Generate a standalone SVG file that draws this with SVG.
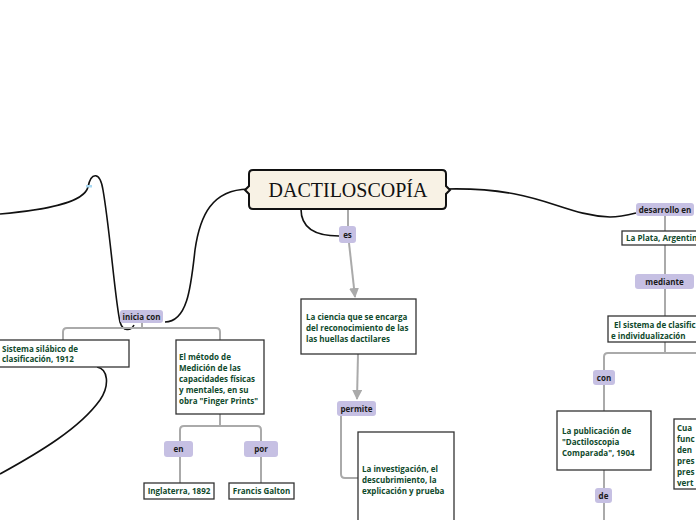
<svg xmlns="http://www.w3.org/2000/svg" width="696" height="520" viewBox="0 0 696 520">
<style>
.lbl rect{fill:#c6c0e3;}
.lbl text{font-family:"Open Sans","Noto Sans",sans-serif;font-size:8px;font-weight:700;fill:#1a1a1a;text-anchor:middle;}
.box rect{fill:#ffffff;stroke:#333;stroke-width:1.3;}
.box text{font-family:"Open Sans","Noto Sans",sans-serif;font-size:8px;font-weight:700;fill:#0f4a2c;}
.grey{fill:none;stroke:#aaa;stroke-width:2;}
.blk{fill:none;stroke:#111;stroke-width:1.6;}
</style>
<defs>
<marker id="arr" viewBox="0 0 10 10" refX="9" refY="5" markerWidth="5" markerHeight="5" orient="auto">
<path d="M0,0 L10,5 L0,10 Z" fill="#aaa"/>
</marker>
</defs>
<rect width="696" height="520" fill="#ffffff"/>
<g id="connectors">
<path class="blk" d="M0,214 C45,210 84,203 88,187 C91,172 100,171 103,190 C110,230 115,300 120,322 C123,332 131,331 134,325"/>
<rect x="86" y="185" width="6" height="2.5" fill="#a9d9f2"/>
<path class="blk" d="M248,189 C212,190 200,215 195,250 C191,285 188,322 165,322"/>
<path class="blk" d="M97,367 C108,369 110,385 100,400 C80,428 40,452 0,474"/>
<path class="blk" d="M301,209 C301,228 315,236 339,236"/>
<path class="blk" d="M447,189 C540,187 560,215 610,217 C620,217 628,215 636,213"/>
<path class="grey" d="M142,323 V328 M63,340 V332 Q63,328 67,328 H216 Q220,328 220,332 V340"/>
<path class="grey" d="M220,414 V426 M180,441 V430 Q180,426 184,426 H257 Q261,426 261,430 V441"/>
<path class="grey" d="M180,457 V483 M261,457 V483"/>
<path class="grey" d="M348,209 V226"/>
<path class="grey" d="M349,243 L355,297" marker-end="url(#arr)"/>
<path class="grey" d="M358,354 L357,399" marker-end="url(#arr)"/>
<path class="grey" d="M341,416 V474 Q341,478 345,478 H358"/>
<path class="grey" d="M665,216 V231 M665,245 V274 M665,289 V316 M665,342 V353"/>
<path class="grey" d="M604,370 V357 Q604,353 608,353 H700"/>
<path class="grey" d="M604,385 V411 M604,470 V488 M604,503 V520"/>
</g>
<g id="title">
<path d="M253,170 H442 Q446,170 446,174 V186 L450,190 L446,194 V205 Q446,209 442,209 H253 Q249,209 249,205 V194 L245,190 L249,186 V174 Q249,170 253,170 Z" fill="#f8f2e5" stroke="#111" stroke-width="2"/>
<text x="348" y="197" font-family="'Liberation Serif',serif" font-size="20" text-anchor="middle" fill="#111">DACTILOSCOPÍA</text>
</g>
<g id="l-inicia" class="lbl"><rect x="120" y="310" width="43" height="13" rx="3"/><text x="141.5" y="319.8">inicia con</text></g>
<g id="n-sistema" class="box"><rect x="-2" y="340" width="131" height="27"/><text x="2" y="351.5">Sistema silábico de</text><text x="2" y="362">clasificación, 1912</text></g>
<g id="n-metodo" class="box"><rect x="176" y="340" width="88" height="74"/>
<text x="179" y="360">El método de</text><text x="179" y="371">Medición de las</text><text x="179" y="382">capacidades físicas</text><text x="179" y="393">y mentales, en su</text><text x="179" y="404">obra "Finger Prints"</text></g>
<g id="l-en" class="lbl"><rect x="164" y="441" width="29" height="16" rx="3"/><text x="178.5" y="452">en</text></g>
<g id="l-por" class="lbl"><rect x="244" y="441" width="34" height="16" rx="3"/><text x="261" y="452">por</text></g>
<g id="n-inglaterra" class="box"><rect x="144" y="483" width="70" height="16"/><text x="179" y="494" text-anchor="middle">Inglaterra, 1892</text></g>
<g id="n-galton" class="box"><rect x="229" y="483" width="65" height="16"/><text x="261.5" y="494" text-anchor="middle">Francis Galton</text></g>
<g id="l-es" class="lbl"><rect x="339" y="226" width="17" height="17" rx="3"/><text x="347.5" y="237.5">es</text></g>
<g id="n-ciencia" class="box"><rect x="301" y="299" width="115" height="55"/>
<text x="306" y="320">La ciencia que se encarga</text><text x="306" y="331">del reconocimiento de las</text><text x="306" y="342">las huellas dactilares</text></g>
<g id="l-permite" class="lbl"><rect x="337" y="401" width="39" height="15" rx="3"/><text x="356.5" y="411.5">permite</text></g>
<g id="n-investigacion" class="box"><rect x="358" y="432" width="96" height="100"/>
<text x="362" y="472">La investigación, el</text><text x="362" y="483">descubrimiento, la</text><text x="362" y="494">explicación y prueba</text></g>
<g id="l-desarrollo" class="lbl"><rect x="636" y="203" width="58" height="13" rx="3"/><text x="665" y="212.5">desarrollo en</text></g>
<g id="n-laplata" class="box"><rect x="622" y="231" width="80" height="14"/><text x="626" y="241">La Plata, Argentin</text></g>
<g id="l-mediante" class="lbl"><rect x="635" y="274" width="59" height="15" rx="3"/><text x="664.5" y="284.5">mediante</text></g>
<g id="n-sistema-clas" class="box"><rect x="608" y="316" width="95" height="26"/><text x="614" y="328">El sistema de clasific</text><text x="611" y="338.5">e individualización</text></g>
<g id="l-con" class="lbl"><rect x="593" y="370" width="22" height="15" rx="3"/><text x="604" y="380.5">con</text></g>
<g id="n-publicacion" class="box"><rect x="557" y="411" width="94" height="59"/>
<text x="562" y="434">La publicación de</text><text x="562" y="445">"Dactiloscopia</text><text x="562" y="456">Comparada", 1904</text></g>
<g id="l-de" class="lbl"><rect x="595" y="488" width="17" height="15" rx="3"/><text x="603.5" y="498.5">de</text></g>
<g id="n-cuando" class="box"><rect x="674" y="419" width="30" height="70"/>
<text x="677" y="431">Cua</text><text x="677" y="442">func</text><text x="677" y="453">den</text><text x="677" y="464">pres</text><text x="677" y="475">pres</text><text x="677" y="486">vert</text></g>
</svg>
